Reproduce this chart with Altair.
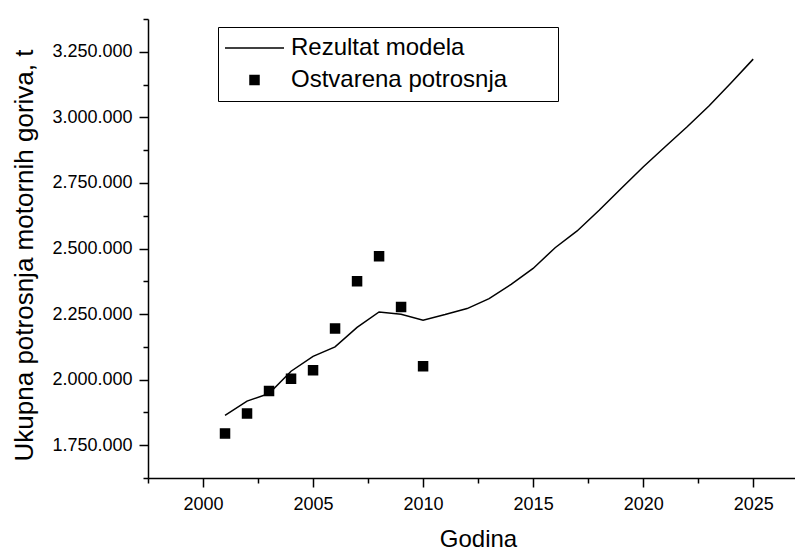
import altair as alt
import pandas as pd

# ---- data ----
obs_years = [2001, 2002, 2003, 2004, 2005, 2006, 2007, 2008, 2009, 2010]
obs_values = [1795000, 1871000, 1957000, 2003000, 2036000, 2195000, 2375000, 2470000, 2277000, 2051000]

model_years = list(range(2001, 2026))
model_values = [1864000, 1918000, 1947000, 2032000, 2089000, 2125000, 2199000, 2258000,
                 2249000, 2227000, 2248000, 2271000, 2309000, 2363000, 2424000, 2503000,
                 2567000, 2646000, 2729000, 2811000, 2888000, 2964000, 3044000, 3132000, 3222000]

series_names = ["Rezultat modela", "Ostvarena potrosnja"]

x_ticks = [1997.5, 2000, 2002.5, 2005, 2007.5, 2010, 2012.5, 2015, 2017.5, 2020, 2022.5, 2025]
y_ticks = [1625000 + 125000 * i for i in range(15)]

model_df = pd.DataFrame({"Godina": model_years, "value": model_values, "series": series_names[0]})
obs_df = pd.DataFrame({"Godina": obs_years, "value": obs_values, "series": series_names[1]})

FONT = "Liberation Sans"

x_enc = alt.X(
    "Godina:Q",
    scale=alt.Scale(domain=[1997.5, 2026.9], nice=False, zero=False),
    axis=alt.Axis(
        title="Godina",
        values=x_ticks,
        labelExpr="datum.value % 5 === 0 ? format(datum.value, 'd') : ''",
        tickSize={"condition": {"test": "datum.value % 5 === 0", "value": 9}, "value": 5},
        labelPadding=8,
        labelFlush=False,
        labelOverlap=False,
        titleX=330,
        titleY=68,
        titleBaseline="alphabetic",
        titleFontSize=24,
    ),
)
y_enc = alt.Y(
    "value:Q",
    scale=alt.Scale(domain=[1625000, 3375000], nice=False, zero=False),
    axis=alt.Axis(
        title="Ukupna potrosnja motornih goriva, t",
        values=y_ticks,
        labelExpr="datum.value % 250000 === 0 ? replace(format(datum.value, ',d'), regexp(',', 'g'), '.') : ''",
        tickSize={"condition": {"test": "datum.value % 250000 === 0", "value": 9}, "value": 5},
        labelPadding=7,
        labelFlush=False,
        labelOverlap=False,
        titleAngle=270,
        titleX=-116,
        titleY=236,
        titleAlign="center",
        titleBaseline="alphabetic",
        titleFontSize=26,
    ),
)

legend_props = dict(
    title=" ",
    titleOrient="right",
    titlePadding=45,
    titleFontSize=24,
    orient="none",
    legendX=70,
    legendY=8,
    strokeColor="black",
    fillColor="white",
    padding=6,
    rowPadding=2,
    clipHeight=30,
    labelFont=FONT,
    labelFontSize=24,
    labelColor="black",
    labelOffset=6,
    labelLimit=500,
    symbolStrokeColor="black",
    symbolFillColor="black",
    symbolStrokeWidth=1.5,
    symbolOpacity=1,
)

line = alt.Chart(model_df).mark_line(color="black", strokeWidth=1.5).encode(x=x_enc, y=y_enc)

points = alt.Chart(obs_df).mark_point(
    filled=True, fill="black", strokeWidth=1.5, opacity=1
).encode(
    x=x_enc,
    y=y_enc,
    shape=alt.Shape(
        "series:N",
        scale=alt.Scale(domain=series_names, range=["stroke", "square"]),
        legend=alt.Legend(**legend_props),
    ),
    size=alt.Size(
        "series:N",
        scale=alt.Scale(domain=series_names, range=[3481, 81]),
        legend=alt.Legend(**legend_props),
    ),
    stroke=alt.Stroke(
        "series:N",
        scale=alt.Scale(domain=series_names, range=["black", "black"]),
        legend=alt.Legend(**legend_props),
    ),
)

chart = (
    alt.layer(line, points)
    .properties(
        width=647,
        height=459,
        autosize=alt.AutoSizeParams(type="none"),
        padding={"left": 140, "top": 11, "right": 0, "bottom": 72},
    )
    .configure_view(stroke=None)
    .configure_axis(
        grid=False,
        domainColor="black",
        domainWidth=1.5,
        tickColor="black",
        tickWidth=1.5,
        labelColor="black",
        labelFont=FONT,
        labelFontSize=18,
        titleColor="black",
        titleFont=FONT,
        titleFontWeight="normal",
    )
)

chart.save("out.html", embed_options={"renderer": "svg", "actions": False})
